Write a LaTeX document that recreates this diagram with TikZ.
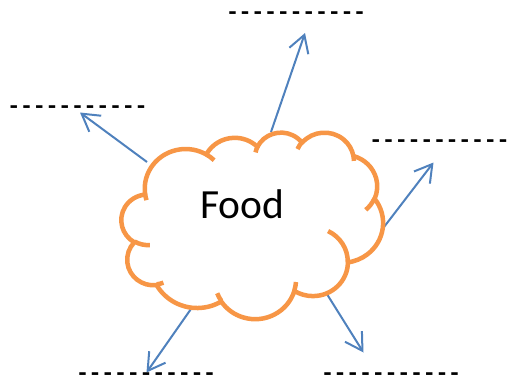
\documentclass[tikz,border=0pt]{standalone}
\usepackage{fontspec}
\setmainfont{Carlito}
\usetikzlibrary{arrows.meta}
\definecolor{cloudorange}{HTML}{F79646}
\definecolor{arrowblue}{HTML}{4F81BD}
% DrawingML-style arcTo: #1 wR, #2 hR, #3 start angle, #4 sweep (visual angles)
\newcommand\carc[4]{\pgfextra{%
  \pgfmathsetmacro\cta{atan2((#1)*sin(#3),(#2)*cos(#3))}%
  \pgfmathsetmacro\ctd{atan2((#1)*sin((#3)+(#4)),(#2)*cos((#3)+(#4)))-(\cta)}%
  \ifdim\ctd pt<0pt \pgfmathsetmacro\ctd{\ctd+360}\fi
  \global\let\cta\cta \global\let\ctd\ctd}%
  arc[start angle=\cta, delta angle=\ctd, x radius=#1, y radius=#2]}
% eleven hyphens, spaced apart so that no dash ligature forms
\newcommand\hy{-\kern4.77pt}
\newcommand\blanks{\hy\hy\hy\hy\hy\hy\hy\hy\hy\hy-}
\tikzset{
  cloudline/.style={draw=cloudorange, line width=4.5pt, line join=round},
  arr/.style={draw=arrowblue, line width=2pt, -{Straight Barb[length=17pt,width=20pt]}},
  blank/.style={font=\fontsize{26}{32}\selectfont\bfseries, inner sep=0pt, anchor=base west},
}
\begin{document}
\begin{tikzpicture}[x=1pt,y=-1pt]
\useasboundingbox (0,0) rectangle (511,378);
% arrow end points
\coordinate (tS) at (271,132);   \coordinate (tE) at (305,33);
\coordinate (lS) at (147,162);   \coordinate (lE) at (80,112.5);
\coordinate (rS) at (384,227);   \coordinate (rE) at (433.5,162.5);
\coordinate (blS) at (192,307.5); \coordinate (blE) at (146.5,372.5);
\coordinate (brS) at (325,291);  \coordinate (brE) at (363.5,352.5);
\draw[arr] (tS) -- (tE);
\draw[arr] (lS) -- (lE);
\draw[arr] (rS) -- (rE);
\draw[arr] (blS) -- (blE);
\draw[arr] (brS) -- (brE);
% cloud
\begin{scope}[shift={(121.5,132)}, x=0.60532pt, y=-0.43171pt]
\draw[cloudline, fill=white] (39.00,143.70)
  \carc{67.53}{91.90}{-190.4875}{123.7805}
  \carc{53.33}{72.67}{-144.1024}{89.9452}
  \carc{43.65}{59.45}{-145.8079}{99.7230}
  \carc{48.57}{65.95}{-130.9861}{117.2417}
  \carc{53.33}{72.73}{-78.7089}{109.0269}
  \carc{67.75}{92.20}{-46.2673}{130.2690}
  \carc{57.85}{78.67}{0.6250}{114.0333}
  \carc{67.52}{92.15}{22.4516}{115.1726}
  \carc{77.20}{105.43}{66.2426}{75.7110}
  \carc{43.60}{59.18}{-274.9421}{146.7356}
  \carc{43.45}{59.45}{-246.8285}{152.5189}
  -- cycle;
\draw[cloudline]
  (46.93,261.77) \carc{43.45}{59.45}{86.7420}{26.4295}
  (69.28,348.99) \carc{43.60}{59.18}{73.6105}{11.4475}
  (164.78,390.90) \carc{67.52}{92.15}{137.6242}{14.0811}
  (288.27,347.51) \carc{67.52}{92.15}{6.4533}{15.9984}
  (341.29,229.54) \carc{57.85}{78.67}{-70.2924}{70.9174}
  (417.98,153.54) \carc{53.33}{72.73}{30.3180}{27.7515}
  (383.24,54.26) \carc{48.57}{65.95}{-13.7443}{14.8589}
  (290.78,39.52) \carc{48.57}{65.95}{-149.1815}{18.1954}
  (221.41,47.20) \carc{43.65}{59.45}{-163.4943}{17.6864}
  (140.00,51.92) \carc{67.53}{91.90}{-66.7070}{12.3194}
  (41.27,157.89) \carc{67.53}{91.90}{157.6544}{11.8582};
\end{scope}
\node[font=\fontsize{41.5}{50}\selectfont, inner sep=0pt, anchor=base] (food) at (242.5,218.3) {Food};
% blank answer lines
\node[blank] (bTop) at (228.3,20.6) {\blanks};
\node[blank] (bLeft) at (9.7,114.0) {\blanks};
\node[blank] (bRight) at (371.7,148.0) {\blanks};
\node[blank] (bBL) at (78.3,381.3) {\blanks};
\node[blank] (bBR) at (323.3,381.3) {\blanks};
\end{tikzpicture}
\end{document}
